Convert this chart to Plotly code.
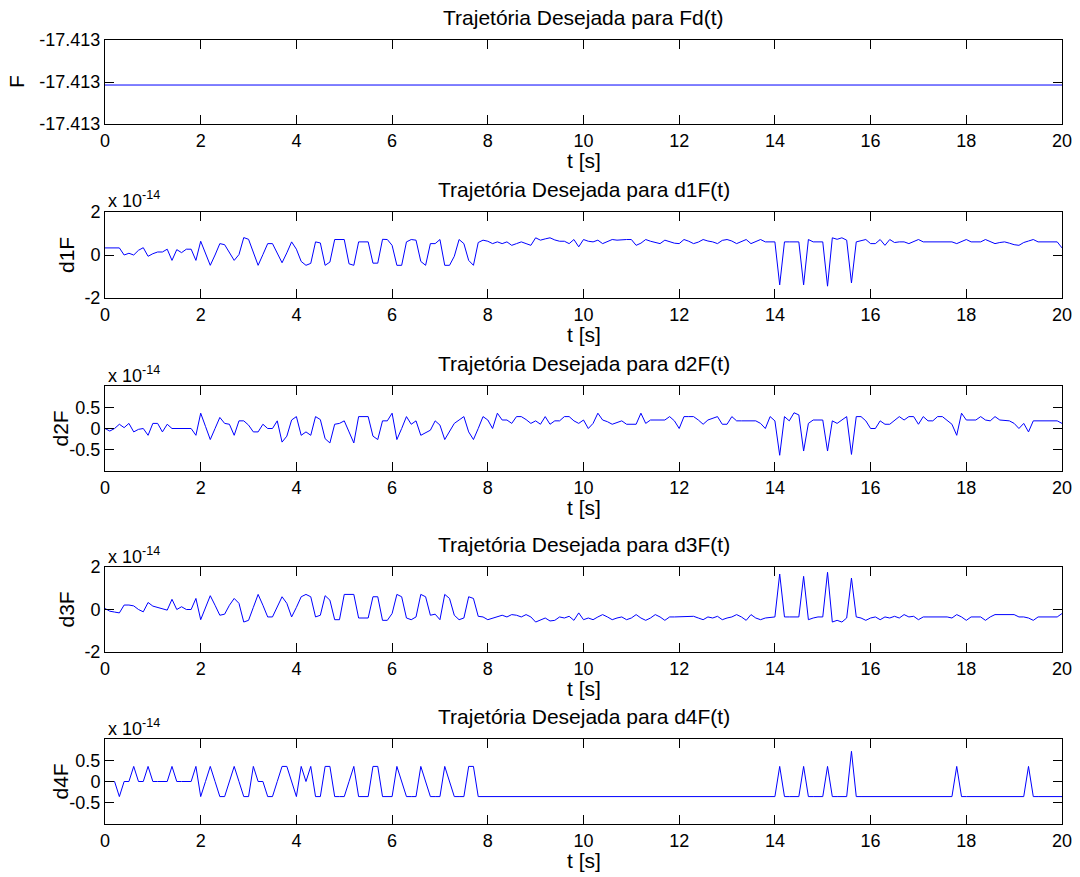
import numpy as np
import plotly.graph_objects as go

# ---------------- data ----------------
T_STEP = 0.1
N_SAMPLES = 201
t = np.round(np.arange(N_SAMPLES) * T_STEP, 1)

# Panel 1: Fd(t) is constant
F_t = [0.0, 20.0]
F_val = [-17.4130536, -17.4130536]

# Panels 2..5 in units of 1e-14
d1F = [
    0.33, 0.33, 0.33, 0.33, 0.00, 0.08, 0.00, 0.22, 0.34, -0.06,
    0.06, 0.14, 0.14, 0.27, -0.25, 0.25, 0.11, 0.27, 0.27, -0.25,
    0.64, 0.08, -0.48, 0.00, 0.53, 0.48, 0.10, -0.25, 0.02, 0.81,
    0.73, 0.14, -0.48, 0.02, 0.53, 0.53, 0.08, -0.36, 0.10, 0.61,
    0.27, -0.30, -0.48, -0.39, 0.61, 0.56, -0.48, -0.33, 0.72, 0.72,
    0.72, -0.41, -0.48, 0.61, 0.61, 0.61, -0.38, -0.38, 0.73, 0.72,
    0.45, -0.48, -0.48, 0.61, 0.72, 0.69, -0.30, -0.48, 0.53, 0.53,
    0.72, -0.48, -0.48, -0.06, 0.72, 0.53, -0.25, -0.48, 0.58, 0.69,
    0.64, 0.53, 0.61, 0.53, 0.61, 0.45, 0.53, 0.61, 0.53, 0.45,
    0.80, 0.69, 0.75, 0.80, 0.70, 0.64, 0.64, 0.53, 0.72, 0.38,
    0.72, 0.64, 0.61, 0.69, 0.53, 0.64, 0.72, 0.69, 0.72, 0.72,
    0.72, 0.45, 0.55, 0.72, 0.64, 0.60, 0.53, 0.69, 0.61, 0.55,
    0.53, 0.72, 0.64, 0.53, 0.60, 0.72, 0.65, 0.61, 0.53, 0.68,
    0.72, 0.65, 0.53, 0.64, 0.72, 0.53, 0.64, 0.72, 0.61, 0.61,
    0.61, -1.39, 0.61, 0.61, 0.61, 0.61, -1.39, 0.72, 0.61, 0.61,
    0.61, -1.45, 0.80, 0.73, 0.80, 0.69, -1.30, 0.61, 0.68, 0.72,
    0.53, 0.53, 0.72, 0.45, 0.72, 0.58, 0.61, 0.61, 0.53, 0.61,
    0.72, 0.61, 0.61, 0.61, 0.61, 0.61, 0.61, 0.61, 0.53, 0.61,
    0.72, 0.61, 0.61, 0.61, 0.72, 0.61, 0.53, 0.58, 0.61, 0.55,
    0.48, 0.45, 0.58, 0.65, 0.72, 0.61, 0.61, 0.61, 0.61, 0.61,
    0.33,
]

d2F = [
    0.00, -0.06, 0.00, 0.10, 0.02, 0.12, -0.08, -0.02, 0.00, -0.16,
    0.12, 0.12, -0.08, 0.10, 0.00, 0.00, 0.00, 0.00, 0.00, -0.16,
    0.36, 0.05, -0.26, 0.00, 0.26, 0.12, 0.10, -0.16, 0.18, 0.18,
    0.08, -0.08, -0.08, 0.10, 0.00, 0.00, 0.18, -0.32, -0.18, 0.20,
    0.28, -0.16, -0.08, -0.16, 0.28, 0.21, -0.24, -0.34, 0.10, 0.12,
    0.18, -0.08, -0.34, 0.28, 0.28, 0.28, -0.18, -0.26, 0.18, 0.18,
    0.36, -0.26, 0.00, 0.28, 0.10, 0.18, -0.16, -0.10, -0.04, 0.18,
    0.08, -0.26, -0.08, 0.12, 0.20, 0.28, -0.08, -0.26, 0.00, 0.28,
    0.20, 0.00, 0.36, 0.20, 0.20, 0.12, 0.28, 0.28, 0.21, 0.12,
    0.18, 0.10, 0.28, 0.10, 0.18, 0.18, 0.28, 0.28, 0.18, 0.12,
    0.20, 0.00, 0.12, 0.36, 0.20, 0.16, 0.10, 0.14, 0.18, 0.10,
    0.10, 0.10, 0.36, 0.12, 0.20, 0.20, 0.20, 0.20, 0.28, 0.18,
    0.00, 0.28, 0.28, 0.28, 0.20, 0.10, 0.20, 0.24, 0.28, 0.10,
    0.10, 0.28, 0.18, 0.18, 0.18, 0.18, 0.18, 0.12, 0.00, 0.28,
    0.18, -0.63, 0.28, 0.18, 0.37, 0.32, -0.53, 0.12, 0.20, 0.20,
    0.20, -0.53, 0.18, 0.12, 0.20, 0.28, -0.61, 0.28, 0.28, 0.18,
    0.00, 0.00, 0.18, 0.10, 0.10, 0.18, 0.28, 0.20, 0.28, 0.28,
    0.10, 0.28, 0.18, 0.18, 0.28, 0.28, 0.20, 0.10, -0.16, 0.36,
    0.20, 0.20, 0.20, 0.28, 0.20, 0.18, 0.28, 0.20, 0.19, 0.18,
    0.12, 0.00, 0.12, -0.08, 0.18, 0.18, 0.18, 0.18, 0.18, 0.18,
    0.12,
]

d3F = [
    0.05, -0.08, -0.12, -0.16, 0.21, 0.21, 0.17, 0.00, -0.11, 0.33,
    0.16, 0.10, 0.05, -0.03, 0.48, 0.00, 0.13, 0.00, 0.00, 0.52,
    -0.48, 0.10, 0.65, 0.20, -0.27, -0.22, 0.20, 0.52, 0.29, -0.59,
    -0.51, 0.10, 0.71, 0.20, -0.35, -0.35, 0.10, 0.60, 0.29, -0.35,
    0.10, 0.60, 0.71, 0.60, -0.35, -0.27, 0.65, 0.44, -0.48, -0.48,
    0.71, 0.71, 0.71, -0.40, -0.40, -0.40, 0.60, 0.60, -0.51, -0.51,
    -0.19, 0.71, 0.60, -0.40, -0.48, -0.35, 0.71, 0.60, -0.27, -0.22,
    -0.48, 0.71, 0.52, -0.27, -0.48, -0.40, 0.60, 0.52, -0.32, -0.35,
    -0.48, -0.40, -0.35, -0.27, -0.35, -0.24, -0.27, -0.35, -0.24, -0.35,
    -0.59, -0.51, -0.40, -0.54, -0.51, -0.35, -0.40, -0.32, -0.51, -0.16,
    -0.48, -0.40, -0.48, -0.35, -0.24, -0.35, -0.48, -0.40, -0.35, -0.48,
    -0.40, -0.24, -0.40, -0.51, -0.40, -0.24, -0.35, -0.51, -0.35, -0.35,
    -0.35, -0.35, -0.35, -0.32, -0.40, -0.48, -0.35, -0.40, -0.32, -0.48,
    -0.40, -0.35, -0.24, -0.35, -0.51, -0.24, -0.40, -0.48, -0.40, -0.37,
    -0.35, 1.67, -0.35, -0.35, -0.35, -0.35, 1.56, -0.48, -0.40, -0.35,
    -0.35, 1.75, -0.59, -0.51, -0.59, -0.40, 1.48, -0.35, -0.40, -0.51,
    -0.40, -0.35, -0.48, -0.35, -0.40, -0.32, -0.40, -0.24, -0.35, -0.32,
    -0.48, -0.35, -0.35, -0.35, -0.35, -0.35, -0.35, -0.40, -0.24, -0.35,
    -0.51, -0.35, -0.35, -0.35, -0.51, -0.35, -0.24, -0.24, -0.24, -0.24,
    -0.24, -0.35, -0.35, -0.40, -0.51, -0.35, -0.35, -0.35, -0.35, -0.35,
    -0.19,
]

d4F = [
    0.0, 0.0, 0.0, -0.355, 0.0, 0.0, 0.355, 0.0, 0.0, 0.355,
    0.0, 0.0, 0.0, 0.0, 0.355, 0.0, 0.0, 0.0, 0.0, 0.355,
    -0.355, 0.0, 0.355, 0.0, -0.355, -0.355, 0.0, 0.355, 0.0, -0.355,
    -0.355, 0.355, 0.0, 0.0, -0.355, -0.355, 0.0, 0.355, 0.355, 0.0,
    -0.355, 0.355, 0.0, 0.355, -0.355, -0.355, 0.355, 0.355, -0.355, -0.355,
    -0.355, 0.0, 0.355, -0.355, -0.355, -0.355, 0.355, 0.355, -0.355, -0.355,
    -0.355, 0.355, 0.0, -0.355, -0.355, -0.355, 0.355, 0.0, -0.355, -0.355,
    -0.355, 0.355, 0.0, -0.355, -0.355, -0.355, 0.355, 0.355, -0.355, -0.355,
    -0.355, -0.355, -0.355, -0.355, -0.355, -0.355, -0.355, -0.355, -0.355, -0.355,
    -0.355, -0.355, -0.355, -0.355, -0.355, -0.355, -0.355, -0.355, -0.355, -0.355,
    -0.355, -0.355, -0.355, -0.355, -0.355, -0.355, -0.355, -0.355, -0.355, -0.355,
    -0.355, -0.355, -0.355, -0.355, -0.355, -0.355, -0.355, -0.355, -0.355, -0.355,
    -0.355, -0.355, -0.355, -0.355, -0.355, -0.355, -0.355, -0.355, -0.355, -0.355,
    -0.355, -0.355, -0.355, -0.355, -0.355, -0.355, -0.355, -0.355, -0.355, -0.355,
    -0.355, 0.355, -0.355, -0.355, -0.355, -0.355, 0.355, -0.355, -0.355, -0.355,
    -0.355, 0.355, -0.355, -0.355, -0.355, -0.355, 0.71, -0.355, -0.355, -0.355,
    -0.355, -0.355, -0.355, -0.355, -0.355, -0.355, -0.355, -0.355, -0.355, -0.355,
    -0.355, -0.355, -0.355, -0.355, -0.355, -0.355, -0.355, -0.355, 0.355, -0.355,
    -0.355, -0.355, -0.355, -0.355, -0.355, -0.355, -0.355, -0.355, -0.355, -0.355,
    -0.355, -0.355, -0.355, 0.355, -0.355, -0.355, -0.355, -0.355, -0.355, -0.355,
    -0.355,
]

titles = [
    "Trajetória Desejada para Fd(t)",
    "Trajetória Desejada para d1F(t)",
    "Trajetória Desejada para d2F(t)",
    "Trajetória Desejada para d3F(t)",
    "Trajetória Desejada para d4F(t)",
]
ylabels = ["F", "d1F", "d2F", "d3F", "d4F"]
x_ticks = [0, 2, 4, 6, 8, 10, 12, 14, 16, 18, 20]
xlabel = "t [s]"
exponent_label = "x 10<sup>-14</sup>"

y_ranges = [
    [-17.4131, -17.4130],
    [-2, 2],
    [-1, 1],
    [-2, 2],
    [-1, 1],
]
y_tickvals = [
    [-17.4131, -17.41305, -17.4130],
    [-2, 0, 2],
    [-0.5, 0, 0.5],
    [-2, 0, 2],
    [-0.5, 0, 0.5],
]
y_ticktext = [
    ["-17.413", "-17.413", "-17.413"],
    ["-2", "0", "2"],
    ["-0.5", "0", "0.5"],
    ["-2", "0", "2"],
    ["-0.5", "0", "0.5"],
]

# ---------------- layout geometry (pixels) ----------------
W, H = 1080, 877

def px_x(p):
    return p / W

def px_y(p):
    return 1 - p / H

PLOT_L, PLOT_R = 105, 1062
panel_tops = [40, 212, 386, 567, 739]
panel_bots = [124, 298, 471, 652, 824]
ylabel_x = [17, 66, 60, 66, 60]

FONT = "Liberation Sans, Arial, Helvetica, sans-serif"
LINE_COLOR = "#0000ff"

series_x = [F_t, t, t, t, t]
series_y = [F_val, d1F, d2F, d3F, d4F]

fig = go.Figure()
layout = dict(
    width=W, height=H,
    margin=dict(l=0, r=0, t=0, b=0, autoexpand=False),
    paper_bgcolor="white", plot_bgcolor="white",
    showlegend=False,
    font=dict(family=FONT, color="black"),
)
annotations = []

for k in range(5):
    n = k + 1
    xa = "x" if n == 1 else f"x{n}"
    ya = "y" if n == 1 else f"y{n}"
    fig.add_trace(go.Scatter(
        x=series_x[k], y=series_y[k], mode="lines",
        line=dict(color=LINE_COLOR, width=1),
        xaxis=xa, yaxis=ya, hoverinfo="skip",
    ))
    common = dict(
        showline=True, linecolor="black", linewidth=1, mirror="ticks",
        ticks="inside", ticklen=9, tickcolor="black", tickwidth=1,
        showgrid=False, zeroline=False, automargin=False,
        ticklabeloverflow="allow",
        tickfont=dict(family=FONT, size=18, color="black"),
    )
    layout["xaxis" if n == 1 else f"xaxis{n}"] = dict(
        common, domain=[px_x(PLOT_L), px_x(PLOT_R)], range=[0, 20],
        tickvals=x_ticks, ticktext=[str(v) for v in x_ticks],
        anchor=ya,
    )
    layout["yaxis" if n == 1 else f"yaxis{n}"] = dict(
        common, domain=[px_y(panel_bots[k]), px_y(panel_tops[k])],
        range=y_ranges[k], tickvals=y_tickvals[k], ticktext=y_ticktext[k],
        anchor=xa,
    )
    cx = px_x((PLOT_L + PLOT_R) / 2)
    annotations.append(dict(
        text=titles[k], xref="paper", yref="paper",
        x=cx, y=px_y(panel_tops[k] - 22.5),
        xanchor="center", yanchor="middle", showarrow=False,
        font=dict(family=FONT, size=21, color="black"),
    ))
    annotations.append(dict(
        text=xlabel, xref="paper", yref="paper",
        x=cx, y=px_y(panel_bots[k] + 36),
        xanchor="center", yanchor="middle", showarrow=False,
        font=dict(family=FONT, size=21, color="black"),
    ))
    annotations.append(dict(
        text=ylabels[k], xref="paper", yref="paper",
        x=px_x(ylabel_x[k]), y=px_y((panel_tops[k] + panel_bots[k]) / 2),
        xanchor="center", yanchor="middle", showarrow=False, textangle=-90,
        font=dict(family=FONT, size=21, color="black"),
    ))
    if k > 0:
        annotations.append(dict(
            text=exponent_label, xref="paper", yref="paper",
            x=px_x(PLOT_L + 1), y=px_y(panel_tops[k] - 12),
            xanchor="left", yanchor="middle", showarrow=False,
            font=dict(family=FONT, size=18, color="black"),
        ))

layout["annotations"] = annotations
fig.update_layout(**layout)
fig.write_html("out.html")
